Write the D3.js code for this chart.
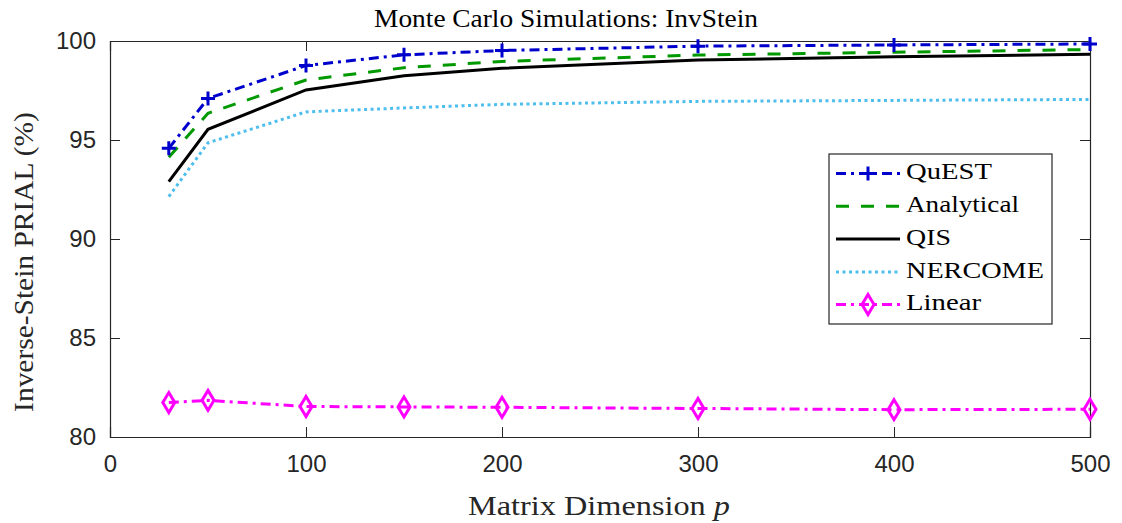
<!DOCTYPE html>
<html><head><meta charset="utf-8">
<script src="https://cdn.jsdelivr.net/npm/d3@7"></script>
<style>body{margin:0;background:#fff}</style>
</head><body>
<svg id="c" width="1122" height="523"></svg>
<script>
const dims = [30, 50, 100, 150, 200, 300, 400, 500];
const quest = [94.58, 97.1, 98.76, 99.3, 99.52, 99.74, 99.8, 99.85];
const analytical = [94.13, 96.35, 98.03, 98.65, 98.97, 99.29, 99.43, 99.57];
const qis = [92.9, 95.54, 97.53, 98.25, 98.62, 99.04, 99.2, 99.33];
const nercome = [92.14, 94.86, 96.42, 96.62, 96.8, 96.95, 97.0, 97.05];
const linear = [81.74, 81.85, 81.54, 81.52, 81.5, 81.44, 81.38, 81.4];
const xTicks = [0, 100, 200, 300, 400, 500];
const yTicks = [80, 85, 90, 95, 100];
const seriesNames = ["QuEST", "Analytical", "QIS", "NERCOME", "Linear"];

const series = [
  {name: seriesNames[0], vals: quest, color: "#0000cc", dash: "10,5,3,5", marker: "plus"},
  {name: seriesNames[1], vals: analytical, color: "#009900", dash: "13,12", marker: null},
  {name: seriesNames[2], vals: qis, color: "#000000", dash: null, marker: null},
  {name: seriesNames[3], vals: nercome, color: "#4dbeee", dash: "3,3.5", marker: null},
  {name: seriesNames[4], vals: linear, color: "#ff00ff", dash: "10,5,3,5", marker: "diamond"}
];

const L = 110, R = 1090, T = 41, B = 437;
const svg = d3.select("#c");
const x = d3.scaleLinear().domain([0, 500]).range([L, R]);
const y = d3.scaleLinear().domain([80, 100]).range([B, T]);
const axisColor = "#262626";
const serif = "'Liberation Serif', 'DejaVu Serif', serif";
const sans = "'Liberation Sans', Arial, sans-serif";

// horizontally stretch a text (anchored) to a target width
function fit(sel, w, ax, ay, rot) {
  const cur = sel.node().getComputedTextLength();
  const s = w / cur;
  sel.attr("transform", `translate(${ax},${ay})${rot ? " rotate(" + rot + ")" : ""} scale(${s},1)`);
}

// axes
const gx = svg.append("g").attr("transform", `translate(0,${B})`)
  .call(d3.axisBottom(x).tickValues(xTicks).tickSize(-10).tickPadding(18));
const gxt = svg.append("g").attr("transform", `translate(0,${T})`)
  .call(d3.axisTop(x).tickValues(xTicks).tickSize(-10).tickFormat(""));
const gy = svg.append("g").attr("transform", `translate(${L},0)`)
  .call(d3.axisLeft(y).tickValues(yTicks).tickSize(-10).tickPadding(14));
const gyr = svg.append("g").attr("transform", `translate(${R},0)`)
  .call(d3.axisRight(y).tickValues(yTicks).tickSize(-10).tickFormat(""));
[gx, gxt, gy, gyr].forEach(g => {
  g.select(".domain").attr("stroke", axisColor).attr("stroke-width", 1.2);
  g.selectAll(".tick line").attr("stroke", axisColor).attr("stroke-width", 1);
  g.selectAll(".tick text").attr("fill", axisColor).style("font-family", sans).style("font-size", "24px");
});

// lines
const line = d3.line().x((d, i) => x(dims[i])).y(d => y(d));
function plusPath(s) { return `M${-s},0H${s}M0,${-s}V${s}`; }
function diamondPath(w, h) { return `M0,${-h}L${w},0L0,${h}L${-w},0Z`; }

series.forEach(s => {
  svg.append("path").datum(s.vals).attr("d", line)
    .attr("fill", "none").attr("stroke", s.color).attr("stroke-width", 3)
    .attr("stroke-dasharray", s.dash).attr("stroke-linejoin", "miter");
});
series.forEach(s => {
  if (!s.marker) return;
  svg.selectAll(null).data(s.vals).enter().append("path")
    .attr("transform", (d, i) => `translate(${x(dims[i])},${y(d)})`)
    .attr("d", s.marker === "plus" ? plusPath(7) : diamondPath(6, 10))
    .attr("fill", "none").attr("stroke", s.color).attr("stroke-width", 3);
});

// title & labels
const title = svg.append("text").attr("text-anchor", "middle")
  .style("font-family", serif).style("font-size", "25px").attr("fill", "#000")
  .text("Monte Carlo Simulations: InvStein");
fit(title, 384, 566, 27);
const xl = svg.append("text").attr("text-anchor", "middle")
  .style("font-family", serif).style("font-size", "28px").attr("fill", axisColor);
xl.append("tspan").text("Matrix Dimension ");
xl.append("tspan").style("font-style", "italic").text("p");
fit(xl, 262, 599, 515);
const yl = svg.append("text").attr("text-anchor", "middle")
  .style("font-family", serif).style("font-size", "28px").attr("fill", axisColor)
  .text("Inverse-Stein PRIAL (%)");
fit(yl, 300, 33, 262, -90);

// legend
const lg = svg.append("g");
lg.append("rect").attr("x", 829).attr("y", 154).attr("width", 223).attr("height", 170)
  .attr("fill", "#fff").attr("stroke", "#262626").attr("stroke-width", 1.2);
const ly = [173.5, 206.3, 239, 272, 304.5];
const lw = [86, 113, 45, 138, 75];
series.forEach((s, i) => {
  lg.append("line").attr("x1", 836).attr("x2", 900).attr("y1", ly[i]).attr("y2", ly[i])
    .attr("stroke", s.color).attr("stroke-width", 3).attr("stroke-dasharray", s.dash);
  if (s.marker) {
    lg.append("path").attr("transform", `translate(868,${ly[i]})`)
      .attr("d", s.marker === "plus" ? plusPath(7) : diamondPath(6, 10))
      .attr("fill", "none").attr("stroke", s.color).attr("stroke-width", 3);
  }
  const t = lg.append("text").style("font-family", serif)
    .style("font-size", "24px").attr("fill", "#000").text(s.name);
  fit(t, lw[i], 906, ly[i] + 5.5);
});
</script>
</body></html>
